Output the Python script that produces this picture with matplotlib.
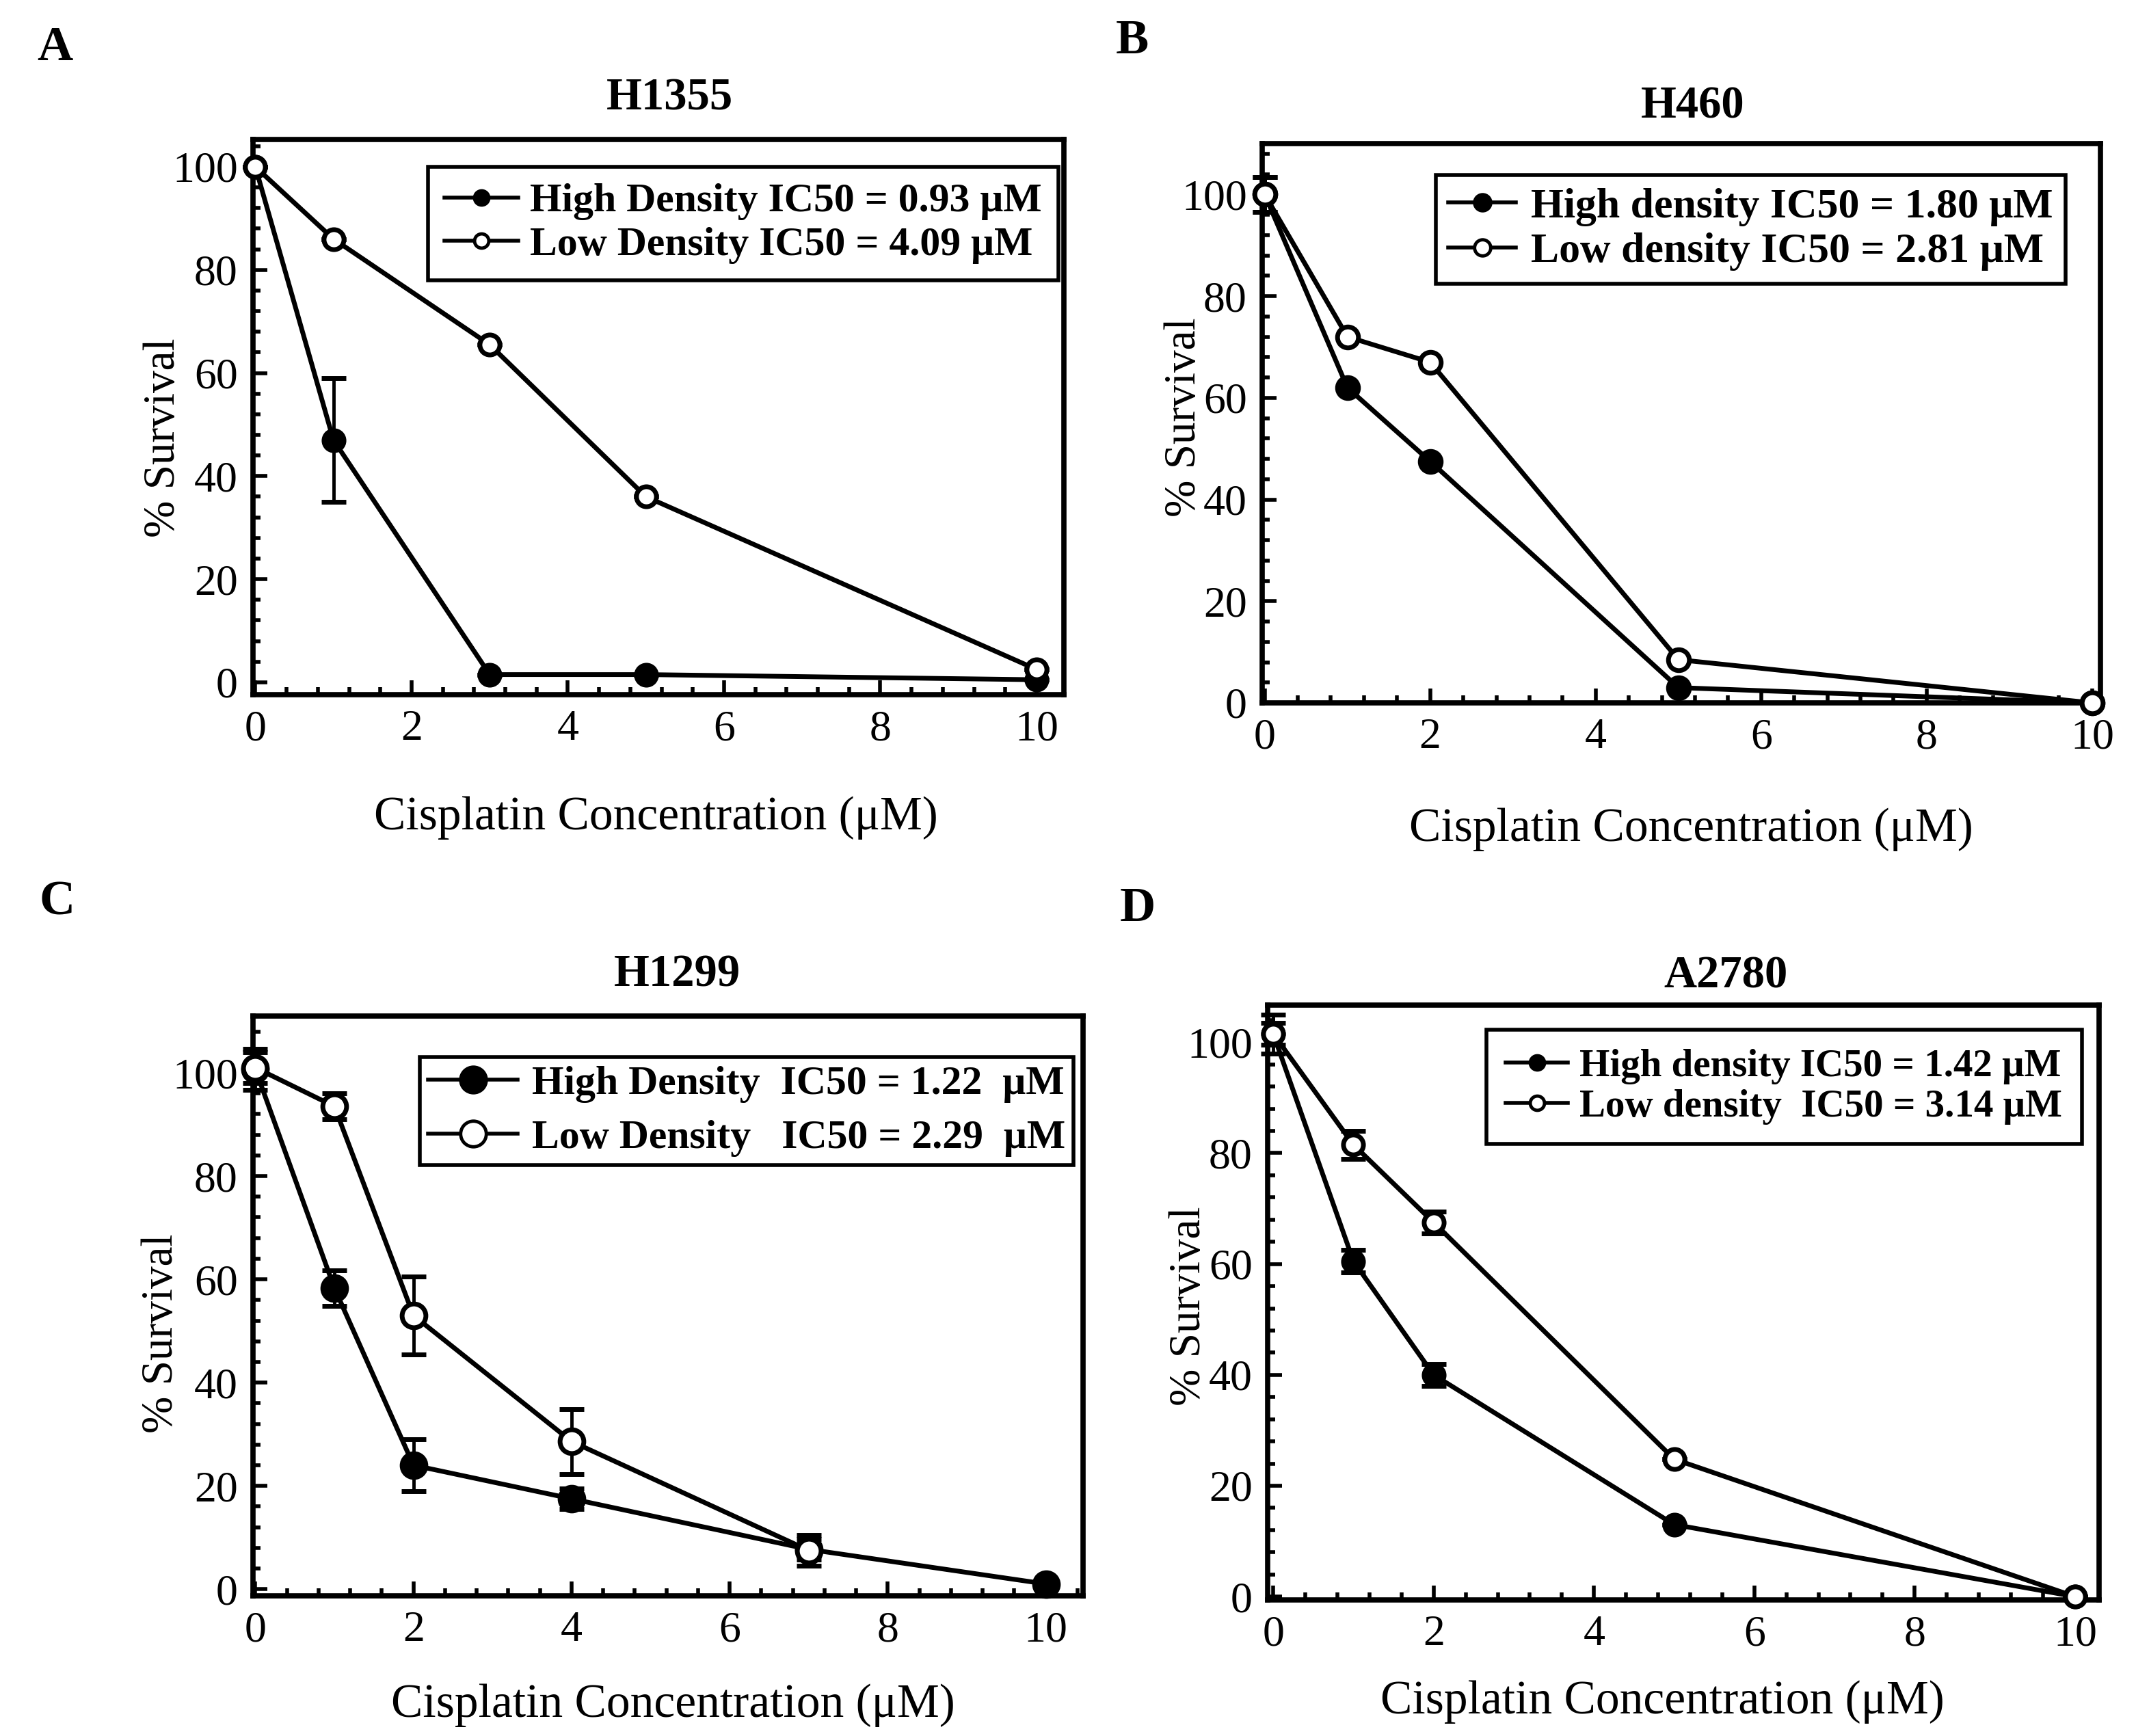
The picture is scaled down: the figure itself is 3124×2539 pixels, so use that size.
import matplotlib
matplotlib.use('Agg')
import matplotlib.pyplot as plt
from matplotlib.ticker import MultipleLocator
from matplotlib.lines import Line2D

plt.rcParams['font.family'] = ['Liberation Serif', 'DejaVu Serif']

# ---------------- data ----------------
# A: H1355
a_x_high = [0, 1, 3, 5, 10]
a_y_high = [100, 47, 1.5, 1.5, 0.5]
a_e_high = [0, 12, 0, 0, 0]
a_x_low = [0, 1, 3, 5, 10]
a_y_low = [100, 86, 65.5, 36, 2.5]
a_e_low = [0, 0, 0, 0, 0]
a_labels = ["High Density IC50 = 0.93 μM", "Low Density IC50 = 4.09 μM"]

# B: H460
b_x_high = [0, 1, 2, 5, 10]
b_y_high = [100, 62, 47.5, 3, 0]
b_e_high = [3.4, 0, 0, 0, 0]
b_x_low = [0, 1, 2, 5, 10]
b_y_low = [100, 72, 67, 8.5, 0]
b_e_low = [3.4, 0, 0, 0, 0]
b_labels = ["High density IC50 = 1.80 μM", "Low density IC50 = 2.81 μM"]

# C: H1299
c_x_high = [0, 1, 2, 4, 7, 10]
c_y_high = [100.7, 58.3, 24, 17.5, 7.7, 1]
c_e_high = [4, 3.5, 5, 2, 2, 0]
c_x_low = [0, 1, 2, 4, 7]
c_y_low = [101, 93.5, 53, 28.6, 7.5]
c_e_low = [3, 2.5, 7.5, 6.3, 3]
c_labels = ["High Density  IC50 = 1.22  μM", "Low Density   IC50 = 2.29  μM"]

# D: A2780
d_x_high = [0, 1, 2, 5, 10]
d_y_high = [101.5, 60.5, 40, 13, 0]
d_e_high = [2, 2, 2, 0, 0]
d_x_low = [0, 1, 2, 5, 10]
d_y_low = [101.5, 81.5, 67.5, 24.8, 0]
d_e_low = [3.5, 2.5, 2, 0, 0]
d_labels = ["High density IC50 = 1.42 μM", "Low density  IC50 = 3.14 μM"]

titles = ["H1355", "H460", "H1299", "A2780"]
letters = ["A", "B", "C", "D"]
xlabel_text = "Cisplatin Concentration (μM)"
ylabel_text = "% Survival"

# ---------------- layout ----------------
W, H = 3124, 2539
fig = plt.figure(figsize=(W / 100, H / 100), dpi=100)


def rect(l, r, t, b):
    return [l / W, 1 - b / H, (r - l) / W, (b - t) / H]


panels = [
    dict(rect=rect(370, 1556, 204, 1016), xlim=(-0.03, 10.35), ylim=(-2.4, 105.3),
         data=(a_x_high, a_y_high, a_e_high, a_x_low, a_y_low, a_e_low), labels=a_labels,
         ms=21, lms=15, leg=(0.216, 0.951), lspace=0.15, hlen=1.8, bpad=0.4, lfs=43,
         htp=0.3, title=(0.514, 1.074), xl=(0.497, -0.222), yl=(-0.110, 0.463),
         letter=(80, 70)),
    dict(rect=rect(1846, 3072, 210, 1028), xlim=(-0.03, 10.1), ylim=(0, 110),
         data=(b_x_high, b_y_high, b_e_high, b_x_low, b_y_low, b_e_low), labels=b_labels,
         ms=22, lms=17, leg=(0.207, 0.944), lspace=0.15, hlen=1.6, bpad=0.3, lfs=44.5,
         htp=0.35, title=(0.514, 1.066), xl=(0.512, -0.227), yl=(-0.093, 0.511),
         letter=(1656, 60)),
    dict(rect=rect(370, 1584, 1486, 2334), xlim=(-0.03, 10.47), ylim=(-1.3, 111),
         data=(c_x_high, c_y_high, c_e_high, c_x_low, c_y_low, c_e_low), labels=c_labels,
         ms=25, lms=27, leg=(0.201, 0.929), lspace=0.4, hlen=2.2, bpad=0.2, lfs=43,
         htp=0.35, title=(0.511, 1.071), xl=(0.506, -0.189), yl=(-0.110, 0.453),
         letter=(84, 1320)),
    dict(rect=rect(1854, 3070, 1470, 2340), xlim=(-0.07, 10.3), ylim=(-0.6, 106.7),
         data=(d_x_high, d_y_high, d_e_high, d_x_low, d_y_low, d_e_low), labels=d_labels,
         ms=21, lms=15, leg=(0.263, 0.959), lspace=0.12, hlen=1.6, bpad=0.5, lfs=41,
         htp=0.3, title=(0.551, 1.048), xl=(0.475, -0.172), yl=(-0.094, 0.494),
         letter=(1664, 1330)),
]

LW = 5.0
MEW = 5.0

for i, p in enumerate(panels):
    ax = fig.add_axes(p['rect'])
    xh, yh, eh, xl_, yl_, el = p['data']
    ax.errorbar(xh, yh, yerr=eh, fmt='-o', color='black', mfc='black', mec='black',
                ms=p['ms'], mew=MEW, lw=LW, elinewidth=3.5, capsize=13, capthick=3.5,
                zorder=3, clip_on=False)
    ax.errorbar(xl_, yl_, yerr=el, fmt='-o', color='black', mfc='white', mec='black',
                ms=p['ms'], mew=MEW, lw=LW, elinewidth=3.5, capsize=13, capthick=3.5,
                zorder=4, clip_on=False)

    ax.set_xlim(*p['xlim'])
    ax.set_ylim(*p['ylim'])
    ax.xaxis.set_major_locator(MultipleLocator(2))
    ax.xaxis.set_minor_locator(MultipleLocator(0.4))
    ax.yaxis.set_major_locator(MultipleLocator(20))
    ax.yaxis.set_minor_locator(MultipleLocator(4))
    ax.tick_params(which='both', direction='in', top=False, right=False,
                   labelsize=46, pad=16, width=4, color='black')
    ax.tick_params(which='major', length=15)
    ax.tick_params(which='minor', length=8)
    for s in ax.spines.values():
        s.set_linewidth(5.5)

    ax.set_xlabel(xlabel_text, fontsize=50, va='center')
    ax.xaxis.set_label_coords(*p['xl'])
    ax.set_ylabel(ylabel_text, fontsize=47, va='center')
    ax.yaxis.set_label_coords(*p['yl'])
    ax.set_title(titles[i], fontsize=48, fontweight='bold', x=p['title'][0],
                 y=p['title'][1], va='center', pad=0)

    handles = [
        Line2D([], [], color='black', marker='o', mfc='black', mec='black',
               ms=p['lms'], mew=3.5, lw=4),
        Line2D([], [], color='black', marker='o', mfc='white', mec='black',
               ms=p['lms'], mew=3.5, lw=4),
    ]
    leg = ax.legend(handles, p['labels'], loc='upper left', bbox_to_anchor=p['leg'],
                    bbox_transform=ax.transAxes, frameon=True, fancybox=False,
                    edgecolor='black', framealpha=1, borderpad=p['bpad'],
                    handlelength=p['hlen'], handletextpad=p['htp'],
                    labelspacing=p['lspace'], borderaxespad=0,
                    prop={'weight': 'bold', 'size': p['lfs']})
    leg.get_frame().set_linewidth(4)

    fig.text(p['letter'][0] / W, 1 - p['letter'][1] / H, letters[i], fontsize=52,
             fontweight='bold', ha='center', va='center')

fig.savefig('out.png', dpi=100, facecolor='white')
